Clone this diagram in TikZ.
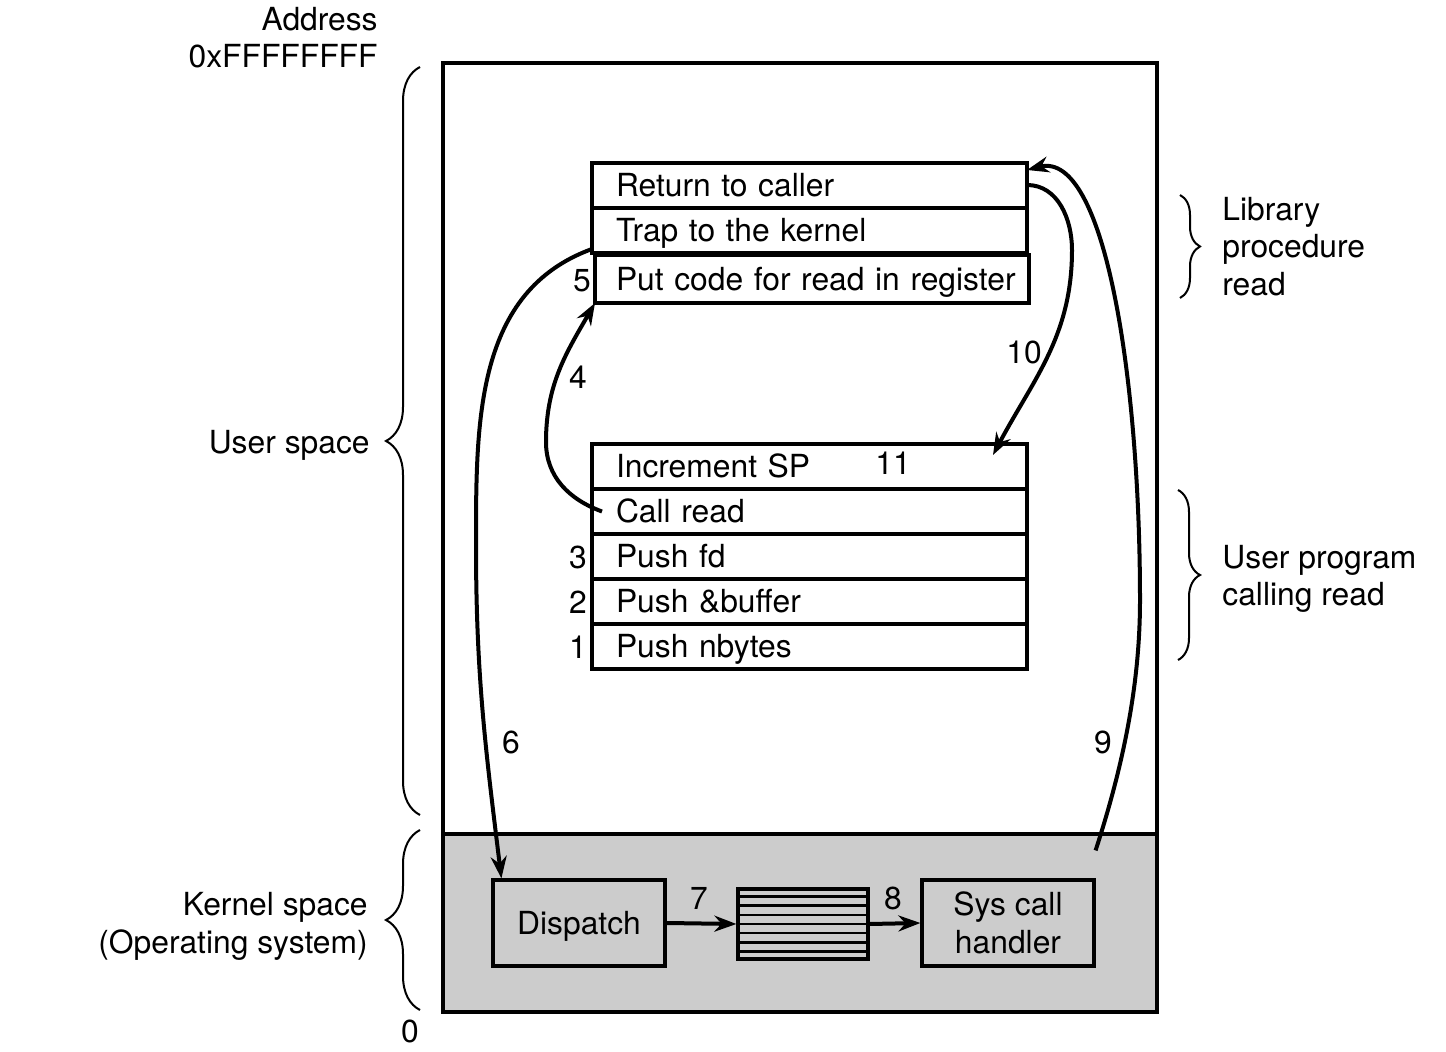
\documentclass[tikz,border=0pt]{standalone}
\usepackage{fontspec}
\setmainfont{TeX Gyre Heros}
\usetikzlibrary{arrows.meta,decorations.pathreplacing,calc}
\definecolor{kgray}{RGB}{204,204,204}
\begin{document}
\begin{tikzpicture}[x=0.5pt,y={(0pt,-0.5pt)},
  txt/.style={font=\fontsize{15.9pt}{19pt}\selectfont, text height=11.4pt, text depth=0pt, inner sep=0pt},
  row/.style={draw, line width=1.6pt, txt, anchor=north west, outer sep=0pt, minimum height=22.5pt,
              text width=193.5pt, align=left, inner xsep=12pt},
  kbox/.style={draw, line width=1.6pt, fill=kgray, minimum width=86pt, minimum height=43pt},
  conn/.style={line width=2pt, -{Stealth[length=11pt,width=8pt]}},
  brc/.style={decorate, decoration={brace, amplitude=#1}, line width=1pt}]
\useasboundingbox (0,0) rectangle (1446,1052);

% memory
\fill[kgray] (443,834) rectangle (1157,1012);
\draw[line width=1.6pt] (443,834) -- (1157,834);
\draw[line width=1.6pt] (443,63) rectangle (1157,1012);

% library procedure rows
\node[row] (ret) at (592,163) {Return to caller};
\node[row] (trap) at (592,208) {Trap to the kernel};
\node[row, inner xsep=10.5pt, text width=196pt, minimum height=24pt] (put) at (595,255) {\mbox{Put code for read in register}};

% user program rows
\node[row] (inc) at (592,444) {Increment SP};
\node[row] (call) at (592,489) {Call read};
\node[row] (pfd) at (592,534) {Push fd};
\node[row] (pbuf) at (592,579) {Push \&buffer};
\node[row] (pnb) at (592,624) {Push nbytes};

% kernel
\node[kbox, txt, minimum width=86pt, minimum height=43pt] (disp) at (579,923) {Dispatch};
\node[kbox, minimum width=65pt, minimum height=35pt] (tbl) at (803,924) {};
\foreach \k in {1,...,7}
  \draw[line width=1.3pt] ($(tbl.north west)!\k/8!(tbl.south west)$) -- ($(tbl.north east)!\k/8!(tbl.south east)$);
\node[kbox, font=\fontsize{15.9pt}{19pt}\selectfont, align=center] (sys) at (1008,923) {Sys call\\handler};

\draw[conn] (disp.east) -- (tbl.west);
\draw[conn] (tbl.east) -- (sys.west);

% curved connectors
\draw[conn] ([xshift=5pt]call.west) to[out=160,in=-90] (546,442) to[out=90,in=240] (put.south west);
\draw[conn] ([yshift=2pt]trap.south west) to[out=200,in=90] (476,545) to[out=-90,in=97] ([xshift=5pt]disp.north west);
\draw[conn] ([yshift=14pt]sys.north east) .. controls (1125,760) and (1140,680) .. (1140,600)
   .. controls (1140,380) and (1105,150) .. ([yshift=-3.5pt]ret.north east);
\draw[conn] ([yshift=-11pt]ret.north east) to[out=0,in=90] (1072,250) to[out=-90,in=62] ([xshift=-17pt,yshift=-5.5pt]inc.north east);

% numbers
\node[txt] (n1) at (578,647) {1};
\node[txt] (n2) at (578,602) {2};
\node[txt] (n3) at (578,557) {3};
\node[txt] (n4) at (578,377) {4};
\node[txt] (n5) at (582,280) {5};
\node[txt] (n6) at (511,742) {6};
\node[txt] (n7) at (699,898) {7};
\node[txt] (n8) at (893,898) {8};
\node[txt] (n9) at (1103,742) {9};
\node[txt] (n10) at (1024,352) {10};
\node[txt] (n11) at (893,463) {11};

% braces
\draw[brc=17pt] (420,815) -- (420,67);
\draw[brc=17pt] (420,1010) -- (420,830);
\draw[brc=10pt] (1180,195) -- (1180,298);
\draw[brc=11pt] (1178,490) -- (1178,660);

% side labels
\node[txt, anchor=east] (addr) at (378,19) {Address};
\node[txt, anchor=east] (ffff) at (378,56) {0xFFFFFFFF};
\node[txt, anchor=east] (us) at (370,442) {User space};
\node[txt, anchor=east] (ks1) at (368,904) {Kernel space};
\node[txt, anchor=east] (ks2) at (368,942) {(Operating system)};
\node[txt] (zero) at (410,1031) {0};
\node[txt, anchor=west] (lib1) at (1222,209) {Library};
\node[txt, anchor=west] (lib2) at (1222,246) {procedure};
\node[txt, anchor=west] (lib3) at (1222,284) {read};
\node[txt, anchor=west] (up1) at (1222,557) {User program};
\node[txt, anchor=west] (up2) at (1222,594) {calling read};
\end{tikzpicture}
\end{document}
